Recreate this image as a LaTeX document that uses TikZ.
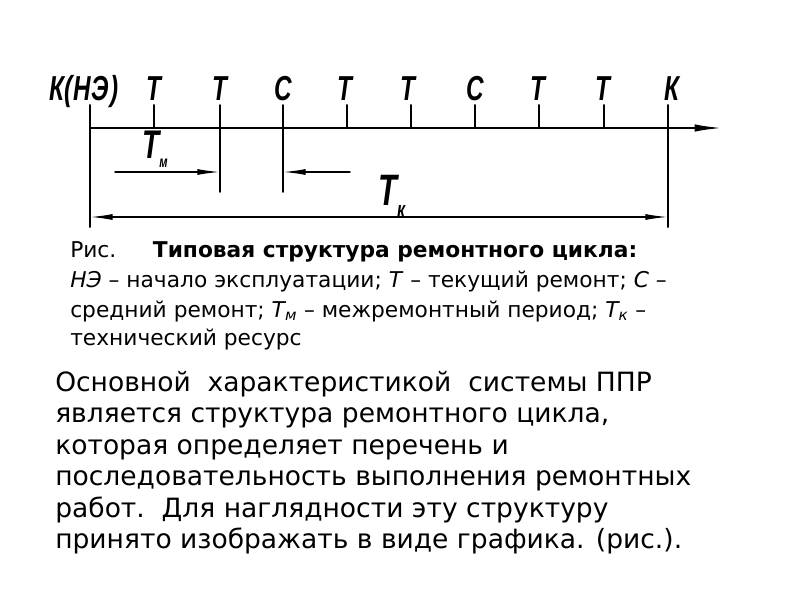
\documentclass[tikz,border=0pt]{standalone}
\usepackage{fontspec}
\setmainfont{DejaVu Sans}
\newfontfamily\sketchfont{Liberation Sans}[FakeStretch=0.7]
\usetikzlibrary{arrows.meta}

\tikzset{
  mark label/.style={font=\sketchfont\bfseries\itshape\fontsize{26}{26}\selectfont, anchor=base, inner sep=0pt},
  dim line/.style={line width=1.1pt},
  cap line/.style={anchor=base west, inner sep=0pt, font=\fontsize{16.3}{19}\selectfont},
  body line/.style={anchor=base west, inner sep=0pt, font=\fontsize{19.9}{24}\selectfont}
}

\begin{document}
\begin{tikzpicture}[x=0.75pt, y=-0.75pt, line cap=round, line join=round, >={Latex[length=17pt,width=4.5pt]}]
\useasboundingbox (0,0) rectangle (800,600);

% axis with the repair marks
\foreach \i in {0,...,9} \coordinate (a\i) at ({90+64.2*\i},128);
\coordinate (tip) at (724,128);
\draw[line width=1.8pt, -{Latex[length=22pt,width=5.5pt]}] (a0) -- (tip);

\foreach \i in {1,4,5,6,7,8} \draw[line width=1.5pt] (a\i) -- ++(0,-23);
\draw[line width=1.5pt] (90,105) -- (90,227);
\draw[line width=1.5pt] (668,105) -- (668,227);
\draw[line width=1.3pt] (220,105) -- (220,192);
\draw[line width=1.3pt] (283,105) -- (283,192);

\node[mark label] (ne) at (84,100) {К(\kern0.6pt Н\kern0.6pt Э\kern0.6pt)};
\node[mark label] (m1) at (154,100) {Т};
\node[mark label] (m2) at (220,100) {Т};
\node[mark label] (m3) at (283,100) {С};
\node[mark label] (m4) at (345,100) {Т};
\node[mark label] (m5) at (408,100) {Т};
\node[mark label] (m6) at (475,100) {С};
\node[mark label] (m7) at (538,100) {Т};
\node[mark label] (m8) at (603,100) {Т};
\node[mark label] (m9) at (672,100) {К};

% inter-repair period
\node[mark label, anchor=base west, font=\sketchfont\bfseries\itshape\fontsize{30}{30}\selectfont] (tm) at (142,158)
  {Т\raisebox{-7pt}{\fontsize{12}{12}\selectfont м}};
\coordinate (d0) at (115,172);
\coordinate (d1) at (220,172);
\coordinate (d2) at (283,172);
\coordinate (d3) at (350,172);
\draw[dim line, ->] (d0) -- (d1);
\draw[dim line, ->] (d3) -- (d2);

% service life
\node[mark label, anchor=base west, font=\sketchfont\bfseries\itshape\fontsize{33}{33}\selectfont] (tk) at (378,205)
  {Т\raisebox{-9pt}{\fontsize{17}{17}\selectfont к}};
\coordinate (k0) at (90,217);
\coordinate (k1) at (668,217);
\draw[dim line, <->] (k0) -- (k1);

% caption
\node[cap line] (c1) at (70,257) {\makebox[62pt][l]{Рис.}\textbf{Типовая структура ремонтного цикла:}};
\node[cap line] (c2) at (70,287) {\textit{НЭ} – начало эксплуатации; \textit{Т} – текущий ремонт; \textit{С} –};
\node[cap line] (c3) at (70,317) {средний ремонт; \textit{Т\textsubscript{м}} – межремонтный период; \textit{Т\textsubscript{к}} –};
\node[cap line] (c4) at (70,345) {технический ресурс};

% text
\node[body line] (b1) at (55,391) {Основной\ \ характеристикой\ \ системы ППР};
\node[body line] (b2) at (55,422) {является структура ремонтного цикла,};
\node[body line] (b3) at (55,454) {которая определяет перечень и};
\node[body line] (b4) at (55,485) {последовательность выполнения ремонтных};
\node[body line] (b5) at (55,517) {работ.\ \ Для наглядности эту структуру};
\node[body line] (b6) at (55,548) {принято изображать в виде графика. (рис.).};
\end{tikzpicture}
\end{document}
